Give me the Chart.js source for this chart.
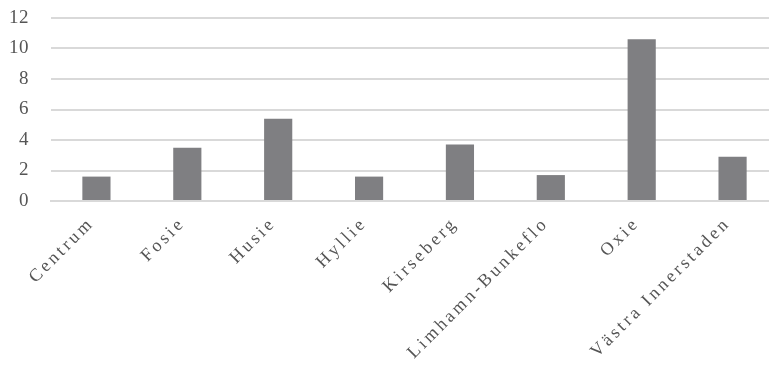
<!DOCTYPE html>
<html>
<head>
<meta charset="utf-8">
<script src="https://cdn.jsdelivr.net/npm/chart.js@4.4.1/dist/chart.umd.min.js"></script>
<style>
    html, body { margin: 0; padding: 0; background: #ffffff; overflow: hidden; }
    #wrap { width: 778px; height: 368px; }
</style>
</head>
<body>
<div id="wrap"><canvas id="barChart" width="778" height="368"></canvas></div>
<script>
const districts = [
    "Centrum",
    "Fosie",
    "Husie",
    "Hyllie",
    "Kirseberg",
    "Limhamn-Bunkeflo",
    "Oxie",
    "Västra Innerstaden",
];
const values = [1.6, 3.5, 5.4, 1.6, 3.7, 1.7, 10.6, 2.9];
const yTicks = [0, 2, 4, 6, 8, 10, 12];

// canvas letter spacing, Chart.js has no option for it.
// y labels normal, x labels (drawn on top layer) spaced out
const spacingPlugin = {
    id: "spacing",
    beforeDraw(chart) {
        chart.ctx.letterSpacing = "0.5px";
    },
    afterDatasetsDraw(chart) {
        chart.ctx.letterSpacing = "3px";
    },
    afterDraw(chart) {
        chart.ctx.letterSpacing = "0px";
    },
};

const ctx = document.getElementById("barChart").getContext("2d");
new Chart(ctx, {
    type: "bar",
    data: {
        labels: districts,
        datasets: [
            {
                label: "Antal",
                data: values,
                backgroundColor: "#7f7f82",
                borderWidth: 0,
                categoryPercentage: 1,
                barPercentage: 0.31,
            },
        ],
    },
    options: {
        responsive: false,
        animation: false,
        layout: { padding: { top: 18, left: 0, right: 0, bottom: 0 } },
        plugins: {
            legend: { display: false },
            tooltip: { enabled: false },
        },
        scales: {
            x: {
                grid: { display: false },
                border: { display: true, color: "#d9d9d9", width: 2 },
                ticks: {
                    z: 1,
                    minRotation: 45,
                    maxRotation: 45,
                    padding: 4,
                    labelOffset: -5,
                    color: "#555555",
                    font: { family: "'Liberation Serif', serif", size: 18 },
                },
                afterFit(scale) {
                    scale.height = 167;
                },
            },
            y: {
                min: 0,
                max: 12,
                afterBuildTicks(scale) {
                    scale.ticks = yTicks.map((v) => ({ value: v }));
                },
                grid: { color: "#d9d9d9", lineWidth: 2, drawTicks: false },
                border: { display: false },
                ticks: {
                    padding: 22,
                    color: "#555555",
                    font: { family: "'Liberation Serif', serif", size: 19 },
                },
                afterFit(scale) {
                    scale.width = 51;
                    // tick padding would otherwise push the plot area down
                    scale.paddingTop = 0;
                    scale.paddingBottom = 0;
                },
            },
        },
    },
    plugins: [spacingPlugin],
});
</script>
</body>
</html>
